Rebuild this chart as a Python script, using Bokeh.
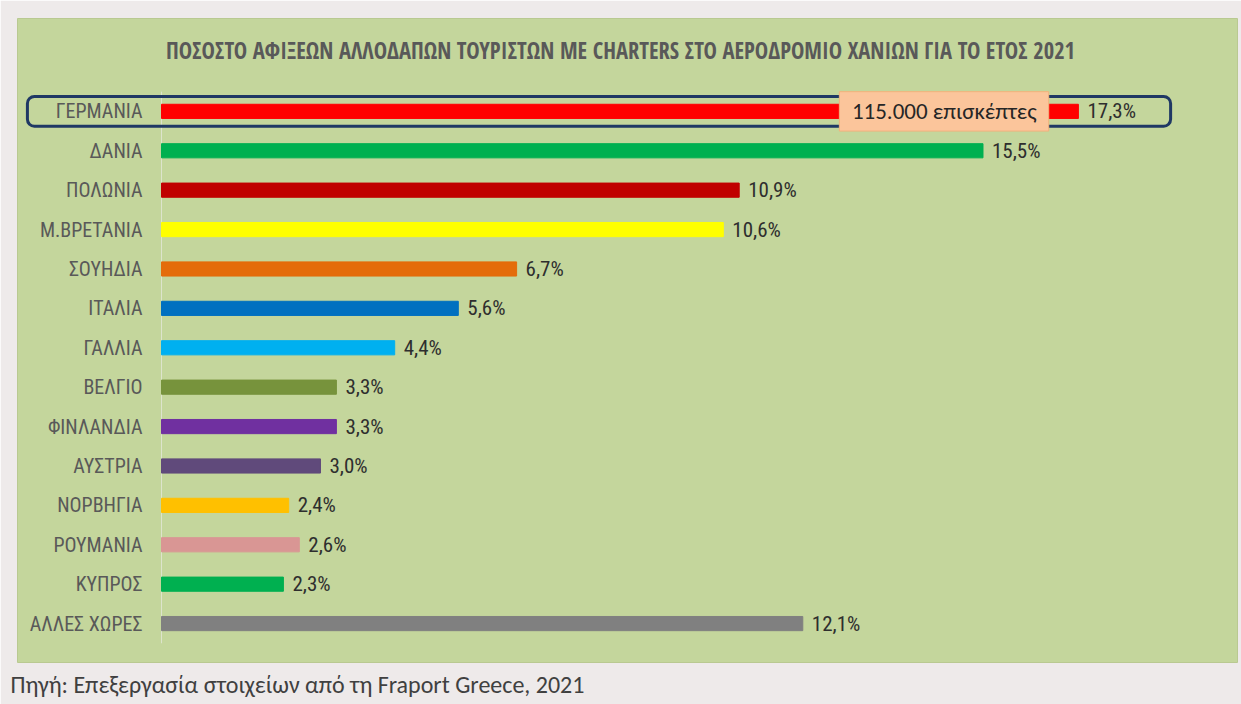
from bokeh.plotting import figure
from bokeh.models import ColumnDataSource, Range1d, Label, Title
from bokeh.core.properties import value
from bokeh.embed import file_html
from bokeh.resources import INLINE

# ---------------- data ----------------
title_text = "ΠΟΣΟΣΤΟ ΑΦΙΞΕΩΝ ΑΛΛΟΔΑΠΩΝ ΤΟΥΡΙΣΤΩΝ ΜΕ CHARTERS ΣΤΟ ΑΕΡΟΔΡΟΜΙΟ ΧΑΝΙΩΝ ΓΙΑ ΤΟ ΕΤΟΣ 2021"
countries = ["ΓΕΡΜΑΝΙΑ", "ΔΑΝΙΑ", "ΠΟΛΩΝΙΑ", "Μ.ΒΡΕΤΑΝΙΑ", "ΣΟΥΗΔΙΑ", "ΙΤΑΛΙΑ", "ΓΑΛΛΙΑ",
             "ΒΕΛΓΙΟ", "ΦΙΝΛΑΝΔΙΑ", "ΑΥΣΤΡΙΑ", "ΝΟΡΒΗΓΙΑ", "ΡΟΥΜΑΝΙΑ", "ΚΥΠΡΟΣ", "ΑΛΛΕΣ ΧΩΡΕΣ"]
shares = [17.3, 15.5, 10.9, 10.6, 6.7, 5.6, 4.4, 3.3, 3.3, 3.0, 2.4, 2.6, 2.3, 12.1]
bar_colors = ["#ff0000", "#00b050", "#c00000", "#ffff00", "#e46c0a", "#0070c0", "#00b0f0",
              "#77933c", "#7030a0", "#604a7b", "#ffc000", "#d99694", "#00b050", "#808080"]
callout_text = "115.000 επισκέπτες"
highlight_country = "ΓΕΡΜΑΝΙΑ"
source_note = "Πηγή: Επεξεργασία στοιχείων από τη Fraport Greece, 2021"

# ---------------- styles ----------------
LABEL_FONT = "Roboto Condensed"
TITLE_FONT = "Open Sans Condensed"
NOTE_FONT = "Carlito"
GREEN = "#c4d69c"
PAGE = "#eeeaea"

rows = list(range(len(countries)))
src = ColumnDataSource(dict(
    y=rows,
    country=countries,
    share=shares,
    color=bar_colors,
    label=[f"{v:.1f}".replace(".", ",") + "%" for v in shares],
    zero=[0] * len(rows),
))

p = figure(width=1241, height=704, output_backend="svg", toolbar_location=None,
           x_range=Range1d(-2.717, 20.302), y_range=Range1d(13.988, -2.357),
           x_axis_location=None, y_axis_location=None,
           min_border_left=17, min_border_right=4, min_border_top=18, min_border_bottom=41)
p.background_fill_color = GREEN
p.border_fill_color = PAGE
p.outline_line_color = "#b9c991"
p.grid.visible = False

# category axis line
n = len(rows)
p.segment(x0=[0], y0=[-0.5], x1=[0], y1=[n - 0.5], line_color="#dde4cc", line_width=1)

# bars
p.hbar(y="y", left="zero", right="share", height=0.36, fill_color="color",
       line_color="color", source=src)

# highlight box around the first country row
hi = countries.index(highlight_country)
p.hbar(y=[hi], left=[-2.53], right=[19.04], height=0.76, fill_alpha=0,
       line_color="#1f3864", line_width=3, border_radius=7)

# callout box
p.hbar(y=[hi], left=[12.79], right=[16.74], height=1.0, fill_color="#fbc59b",
       line_color="#f3b27c", line_width=1)
p.text(x=[14.77], y=[hi], text=[callout_text], text_align="center", text_baseline="middle",
       text_font=value(NOTE_FONT), text_font_size="23px", text_color="#262626")

# category labels
p.text(x="zero", y="y", text="country", source=src, x_offset=-19,
       text_align="right", text_baseline="middle", text_font=value(LABEL_FONT),
       text_font_size="20px", text_color="#595959")

# value labels
p.text(x="share", y="y", text="label", source=src, x_offset=9,
       text_align="left", text_baseline="middle", text_font=value(LABEL_FONT),
       text_font_size="21px", text_color="#2e2e2e")

# chart title (inside the green panel)
p.add_layout(Label(x=8.66, y=-1.545, text=title_text, text_align="center",
                   text_baseline="middle", text_font=TITLE_FONT, text_font_style="bold",
                   text_font_size="22.5px", text_color="#595959"))

# source note below the panel
p.add_layout(Title(text=source_note, align="left", offset=-7, standoff=11,
                   vertical_align="bottom", text_font=NOTE_FONT, text_font_style="normal",
                   text_font_size="24px", text_color="#404040"), "below")

open("out.html", "w").write(file_html(p, INLINE))
